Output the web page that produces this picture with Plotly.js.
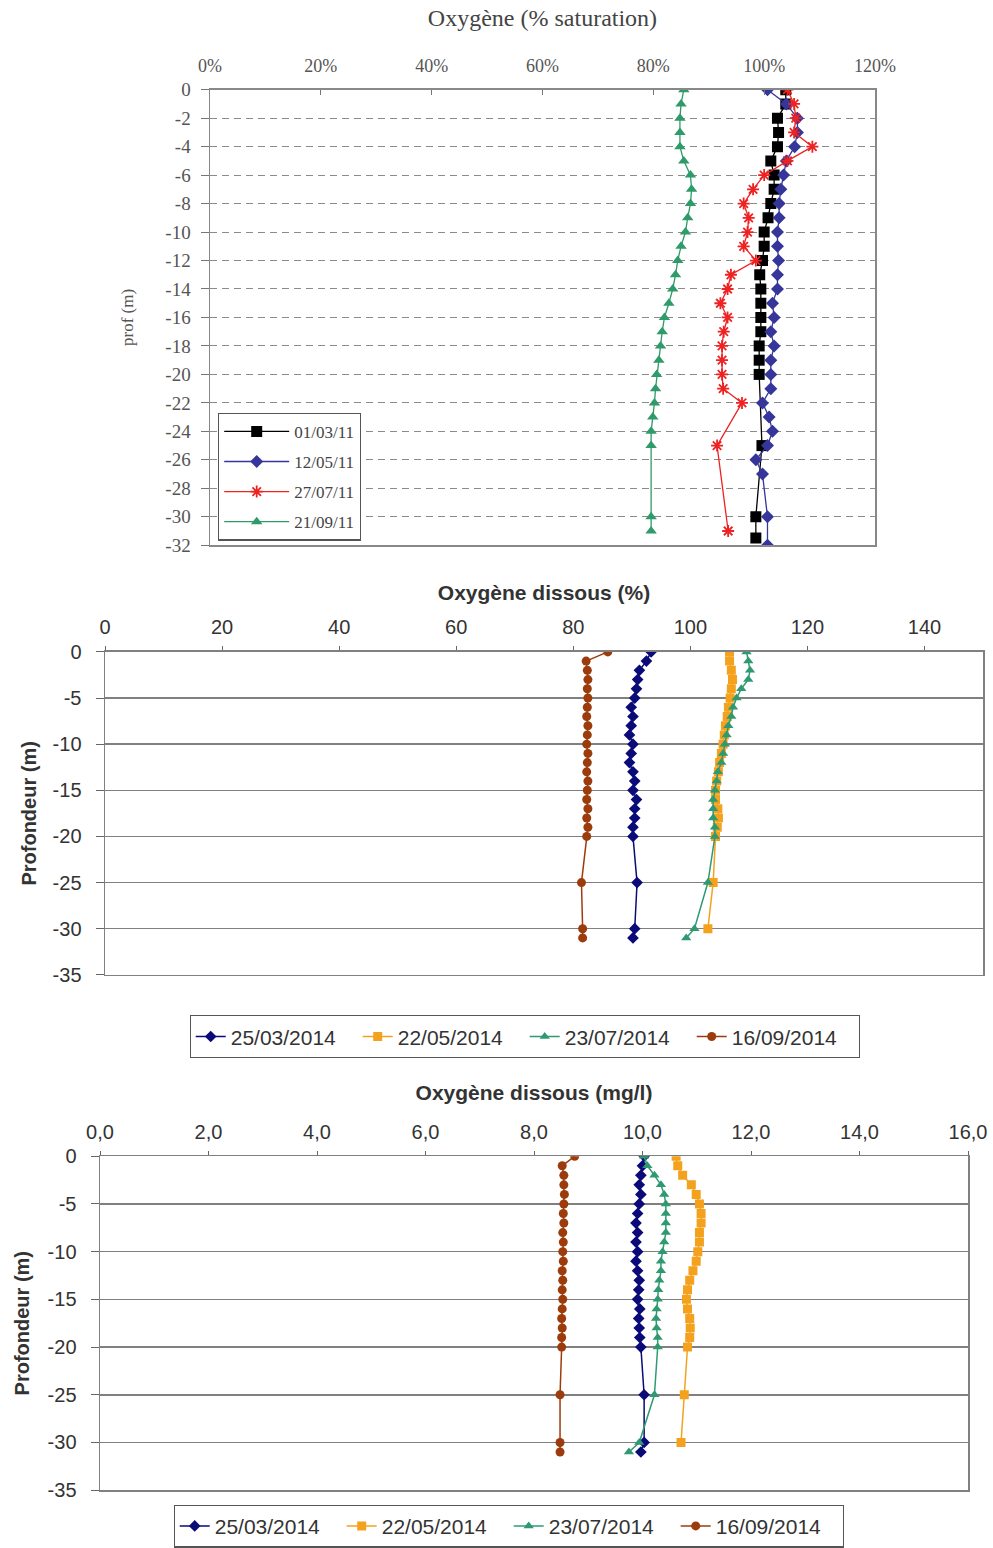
<!DOCTYPE html>
<html><head><meta charset="utf-8">
<script src="https://cdn.plot.ly/plotly-3.0.1.min.js"></script>
<style>html,body{margin:0;padding:0;background:#fff;}#chart{width:993px;height:1548px;}</style>
</head><body><div id="chart"></div>
<script>
// ---------- Chart 1: Oxygène (% saturation), 2011 ----------
var names2011 = ['01/03/11', '12/05/11', '27/07/11', '21/09/11'];
var depthA = [0,-1,-2,-3,-4,-5,-6,-7,-8,-9,-10,-11,-12,-13,-14,-15,-16,-17,-18,-19,-20,-25,-30,-31.5];
var satA   = [103.9,103.9,102.4,102.6,102.4,101.2,101.8,101.8,101.2,100.7,100.0,100.0,99.7,99.2,99.4,99.4,99.4,99.4,99.1,99.1,99.1,99.6,98.5,98.5];
var depthB = [0,-1,-2,-3,-4,-5,-6,-7,-8,-9,-10,-11,-12,-13,-14,-15,-16,-17,-18,-19,-20,-21,-22,-23,-24,-25,-26,-27,-30,-32];
var satB   = [100.6,104,106,106,105.5,104,103.5,103,102.7,102.7,102.4,102.4,102.6,102.4,102.4,101.5,101.8,101.2,101.8,101.2,101.2,101.2,99.7,100.9,101.5,100.6,98.5,99.7,100.6,100.6];
var depthC = [0,-1,-2,-3,-4,-5,-6,-7,-8,-9,-10,-11,-12,-13,-14,-15,-16,-17,-18,-19,-20,-21,-22,-25,-31];
var satC   = [104.2,105.4,105.7,105.4,108.7,104.2,100,98,96.3,97.2,97,96.3,98.5,94,93.4,92.1,93.4,92.7,92.4,92.4,92.4,92.6,96.0,91.5,93.5];
var depthD = [0,-1,-2,-3,-4,-5,-6,-7,-8,-9,-10,-11,-12,-13,-14,-15,-16,-17,-18,-19,-20,-21,-22,-23,-24,-25,-30,-31];
var satD   = [85.5,85,84.8,84.8,84.8,85.5,86.7,86.9,86.7,86.2,85.8,85,84.4,84,83.5,82.8,82,81.6,81.3,81,80.6,80.4,80.2,79.9,79.6,79.6,79.6,79.6];
var x1TickVals = [0,20,40,60,80,100,120];
var x1TickText = ['0%','20%','40%','60%','80%','100%','120%'];
var y1TickVals = [0,-2,-4,-6,-8,-10,-12,-14,-16,-18,-20,-22,-24,-26,-28,-30,-32];
var y1TickText = ['0','-2','-4','-6','-8','-10','-12','-14','-16','-18','-20','-22','-24','-26','-28','-30','-32'];

// ---------- Chart 2: Oxygène dissous (%), 2014 ----------
var names2014 = ['25/03/2014', '22/05/2014', '23/07/2014', '16/09/2014'];
var depth4 = [0,-1,-2,-3,-4,-5,-6,-7,-8,-9,-10,-11,-12,-13,-14,-15,-16,-17,-18,-19,-20,-25,-30,-31];
var depth3 = [0,-1,-2,-3,-4,-5,-6,-7,-8,-9,-10,-11,-12,-13,-14,-15,-16,-17,-18,-19,-20,-25,-30];
var pctMar = [93.3,92.5,91.3,91.0,90.8,90.5,89.9,90.2,89.9,89.6,90.2,89.9,89.6,90.2,90.5,90.2,90.8,90.5,90.5,90.2,90.2,90.9,90.5,90.2];
var pctMay = [106.7,106.7,107,107.2,107,106.8,106.5,106.3,106,105.8,105.6,105.3,105,104.8,104.5,104.3,104.3,104.7,104.8,104.6,104.3,103.9,103.0];
var pctJul = [109.6,109.9,110.2,109.9,108.7,107.9,107.3,107.0,106.5,106.2,105.9,105.6,105.3,104.7,104.5,104.2,103.9,103.9,103.9,104.2,104.2,103.0,100.7,99.3];
var pctSep = [85.9,82.2,82.4,82.5,82.4,82.5,82.4,82.3,82.5,82.4,82.3,82.5,82.4,82.3,82.5,82.4,82.3,82.5,82.3,82.5,82.3,81.4,81.6,81.6];
var x2TickVals = [0,20,40,60,80,100,120,140];
var x2TickText = ['0','20','40','60','80','100','120','140'];
var yTickVals = [0,-5,-10,-15,-20,-25,-30,-35];
var yTickText = ['0','-5','-10','-15','-20','-25','-30','-35'];

// ---------- Chart 3: Oxygène dissous (mg/l), 2014 ----------
var mgMar = [10.03,10.0,9.97,9.94,9.97,9.94,9.91,9.88,9.91,9.88,9.91,9.88,9.91,9.94,9.93,9.91,9.95,9.93,9.94,9.95,9.97,10.03,10.03,9.97];
var mgMay = [10.62,10.65,10.74,10.9,10.99,11.05,11.08,11.08,11.05,11.05,11.02,10.99,10.93,10.87,10.83,10.81,10.83,10.87,10.88,10.87,10.83,10.77,10.71];
var mgJul = [10.03,10.09,10.22,10.34,10.4,10.43,10.43,10.43,10.43,10.4,10.37,10.34,10.34,10.31,10.29,10.28,10.26,10.25,10.26,10.28,10.28,10.22,9.94,9.75];
var mgSep = [8.75,8.52,8.55,8.55,8.56,8.55,8.54,8.55,8.53,8.54,8.53,8.54,8.52,8.53,8.52,8.53,8.52,8.51,8.52,8.51,8.51,8.48,8.48,8.48];
var x3TickVals = [0,2,4,6,8,10,12,14,16];
var x3TickText = ['0,0','2,0','4,0','6,0','8,0','10,0','12,0','14,0','16,0'];

// ---------- styles ----------
var serif = 'Liberation Serif, Times New Roman, serif';
var sans = 'Liberation Sans, Arial, sans-serif';
var c11 = ['#000000', '#35359a', '#ee2222', '#2f9a6a'];
var sym11 = ['square', 'diamond', 'asterisk-open', 'triangle-up'];
var c14 = ['#0a0a78', '#f4a21e', '#2f9a72', '#9c3c0c'];
var sym14 = ['diamond', 'square', 'triangle-up', 'circle'];

var traces = [];
var set11 = [[satA, depthA], [satB, depthB], [satC, depthC], [satD, depthD]];
set11.forEach(function (s, i) {
  traces.push({
    type: 'scatter', mode: 'lines+markers', x: s[0], y: s[1], name: names2011[i],
    xaxis: 'x', yaxis: 'y', legend: 'legend', legendgroup: 'g1_' + i,
    line: {color: c11[i], width: 1.3},
    marker: {symbol: sym11[i], color: c11[i], size: i === 0 ? 11 : 10,
             line: {color: c11[i], width: i === 2 ? 1.8 : 0}}
  });
});
var set14pct = [[pctMar, depth4], [pctMay, depth3], [pctJul, depth4], [pctSep, depth4]];
set14pct.forEach(function (s, i) {
  traces.push({
    type: 'scatter', mode: 'lines+markers', x: s[0], y: s[1], name: names2014[i],
    xaxis: 'x2', yaxis: 'y2', legend: 'legend2',
    line: {color: c14[i], width: 1.5},
    marker: {symbol: sym14[i], color: c14[i], size: 9}
  });
});
var set14mg = [[mgMar, depth4], [mgMay, depth3], [mgJul, depth4], [mgSep, depth4]];
set14mg.forEach(function (s, i) {
  traces.push({
    type: 'scatter', mode: 'lines+markers', x: s[0], y: s[1], name: names2014[i],
    xaxis: 'x3', yaxis: 'y3', legend: 'legend3',
    line: {color: c14[i], width: 1.5},
    marker: {symbol: sym14[i], color: c14[i], size: 9}
  });
});

var W = 993, H = 1548;
function fx(px) { return px / W; }
function fy(py) { return 1 - py / H; }

var layout = {
  width: W, height: H, margin: {l: 0, r: 0, t: 0, b: 0},
  paper_bgcolor: '#fff', plot_bgcolor: '#fff', showlegend: true,
  font: {family: sans, color: '#333'},
  xaxis: {
    domain: [fx(210), fx(875)], anchor: 'y', side: 'top', range: [0, 120],
    tickvals: x1TickVals, ticktext: x1TickText, ticks: 'inside', ticklen: 5, tickcolor: '#777',
    ticklabelstandoff: 9,
    showgrid: false, zeroline: false, showline: true, linecolor: '#888', linewidth: 1.5, mirror: true,
    tickfont: {family: serif, size: 18, color: '#555'},
    title: {text: 'Oxygène (% saturation)', font: {family: serif, size: 24, color: '#444'}, standoff: 22}
  },
  yaxis: {
    domain: [fy(547), fy(90)], anchor: 'x', range: [-32, 0],
    tickvals: y1TickVals, ticktext: y1TickText, ticks: 'outside', ticklen: 8, tickcolor: '#777',
    ticklabelstandoff: 6,
    showgrid: true, gridcolor: '#8a8a8a', griddash: '7px,5px', gridwidth: 1, zeroline: false,
    showline: true, linecolor: '#888', linewidth: 1.5, mirror: true,
    tickfont: {family: serif, size: 19, color: '#555'},
    title: {text: 'prof (m)', font: {family: serif, size: 17, color: '#555'}, standoff: 27}
  },
  xaxis2: {
    domain: [fx(105), fx(983)], anchor: 'y2', side: 'top', range: [0, 150],
    tickvals: x2TickVals, ticktext: x2TickText, ticks: 'outside', ticklen: 4, tickcolor: '#666',
    ticklabelstandoff: 4,
    showgrid: false, zeroline: false, showline: true, linecolor: '#808080', linewidth: 1.5, mirror: true,
    tickfont: {family: sans, size: 20, color: '#333'},
    title: {text: 'Oxygène dissous (%)', font: {family: sans, size: 21, color: '#333', weight: 'bold'}, standoff: 10}
  },
  yaxis2: {
    domain: [fy(978), fy(654)], anchor: 'x2', range: [-35, 0],
    tickvals: yTickVals, ticktext: yTickText, ticks: 'outside', ticklen: 8, tickcolor: '#666',
    ticklabelstandoff: 10,
    showgrid: true, gridcolor: '#808080', gridwidth: 1.5, zeroline: false,
    showline: true, linecolor: '#808080', linewidth: 1.5, mirror: true,
    tickfont: {family: sans, size: 20, color: '#333'},
    title: {text: 'Profondeur (m)', font: {family: sans, size: 20, color: '#333', weight: 'bold'}, standoff: 10}
  },
  xaxis3: {
    domain: [fx(100), fx(968)], anchor: 'y3', side: 'top', range: [0, 16],
    tickvals: x3TickVals, ticktext: x3TickText, ticks: 'outside', ticklen: 4, tickcolor: '#666',
    ticklabelstandoff: 4,
    showgrid: false, zeroline: false, showline: true, linecolor: '#808080', linewidth: 1.5, mirror: true,
    tickfont: {family: sans, size: 20, color: '#333'},
    title: {text: 'Oxygène dissous (mg/l)', font: {family: sans, size: 21, color: '#333', weight: 'bold'}, standoff: 14}
  },
  yaxis3: {
    domain: [fy(1495), fy(1160)], anchor: 'x3', range: [-35, 0],
    tickvals: yTickVals, ticktext: yTickText, ticks: 'outside', ticklen: 8, tickcolor: '#666',
    ticklabelstandoff: 10,
    showgrid: true, gridcolor: '#808080', gridwidth: 1.5, zeroline: false,
    showline: true, linecolor: '#808080', linewidth: 1.5, mirror: true,
    tickfont: {family: sans, size: 20, color: '#333'},
    title: {text: 'Profondeur (m)', font: {family: sans, size: 20, color: '#333', weight: 'bold'}, standoff: 12}
  },
  legend: {
    x: fx(218), y: fy(414), xanchor: 'left', yanchor: 'top', orientation: 'v',
    bgcolor: '#fff', bordercolor: '#555', borderwidth: 1.2, tracegroupgap: 5, itemwidth: 65,
    font: {family: serif, size: 17, color: '#444'}
  },
  legend2: {
    x: fx(525), y: fy(1040), xanchor: 'center', yanchor: 'middle', orientation: 'h',
    bgcolor: '#fff', bordercolor: '#555', borderwidth: 1.2, entrywidth: 122, entrywidthmode: 'pixels',
    font: {family: sans, size: 21, color: '#333'}
  },
  legend3: {
    x: fx(509), y: fy(1531), xanchor: 'center', yanchor: 'middle', orientation: 'h',
    bgcolor: '#fff', bordercolor: '#555', borderwidth: 1.2, entrywidth: 122, entrywidthmode: 'pixels',
    font: {family: sans, size: 21, color: '#333'}
  }
};

Plotly.newPlot('chart', traces, layout, {staticPlot: true, displayModeBar: false});
</script>
</body></html>
